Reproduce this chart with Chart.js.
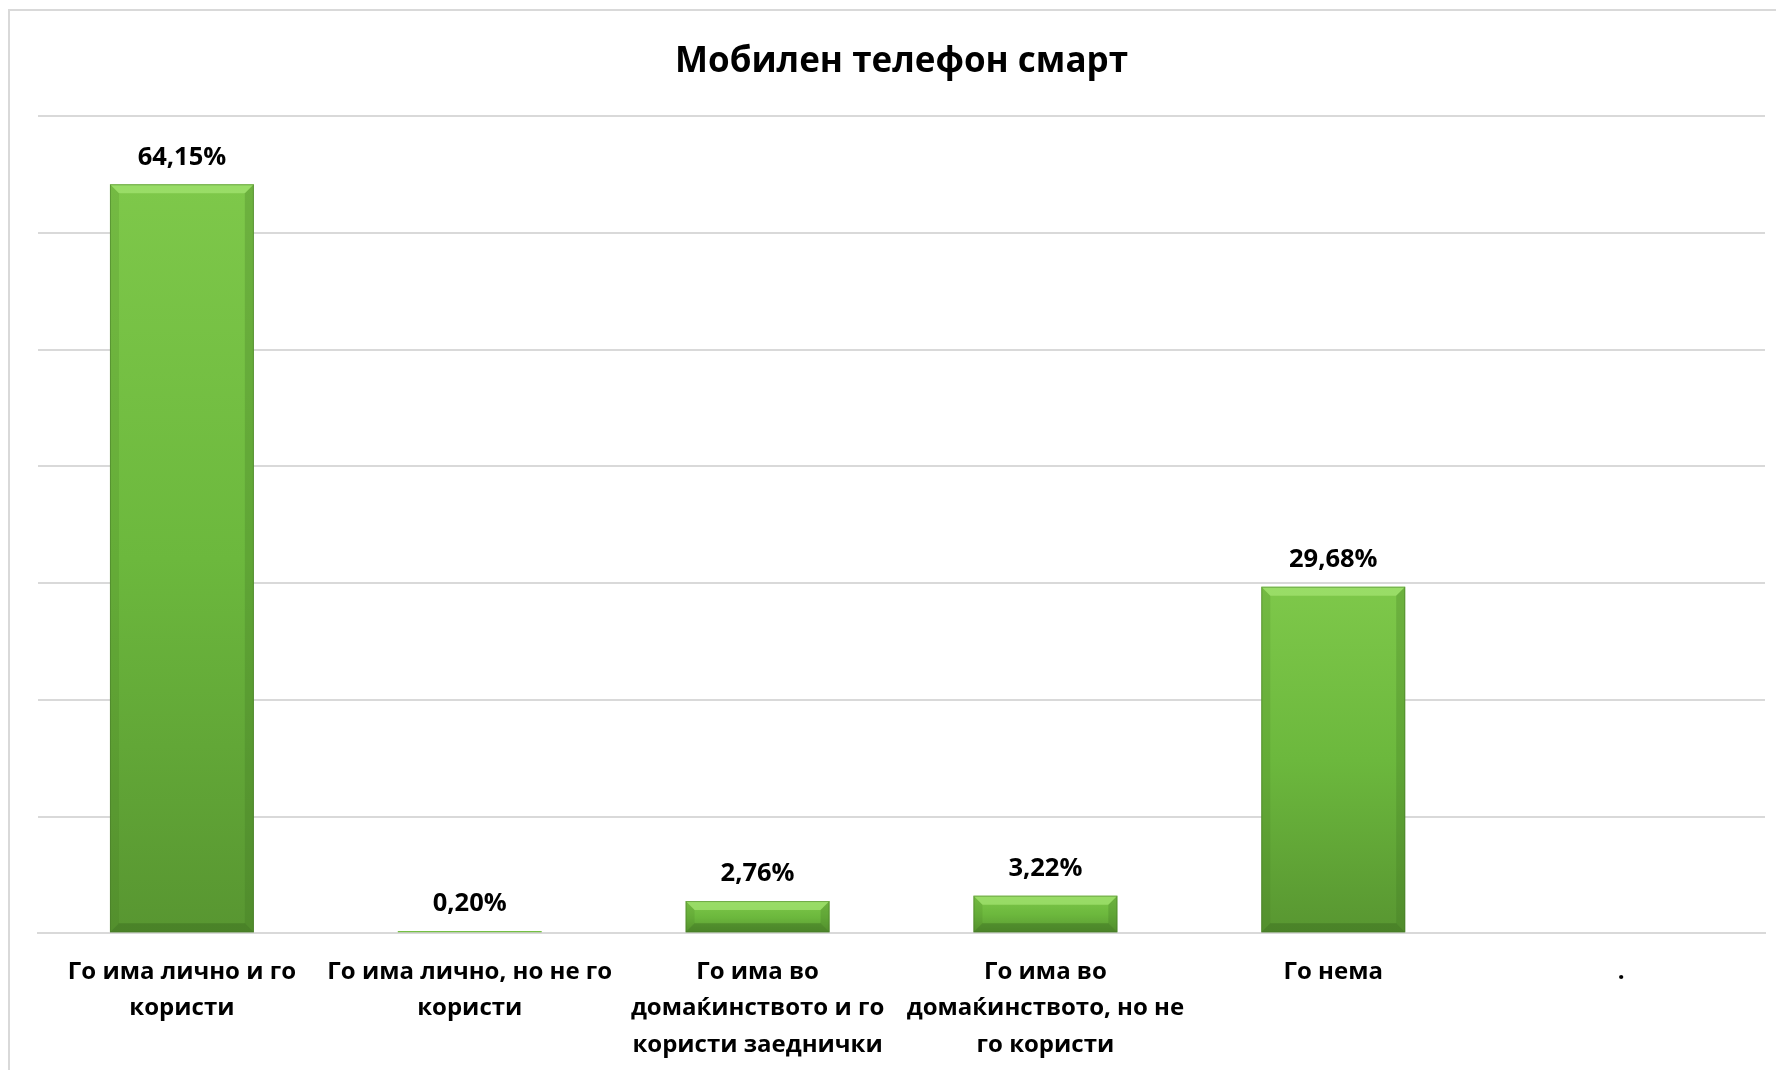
<!DOCTYPE html>
<html>
<head>
<meta charset="utf-8">
<script src="https://cdn.jsdelivr.net/npm/chart.js@4.4.0/dist/chart.umd.min.js"></script>
<style>
  html, body { margin: 0; padding: 0; background: #ffffff; }
  #wrap { width: 1776px; height: 1070px; position: relative; }
</style>
</head>
<body>
<div id="wrap"><canvas id="c" width="1776" height="1070"></canvas></div>
<script>
const chartTitle = "Мобилен телефон смарт";
const categories = [
  ["Го има лично и го", "користи"],
  ["Го има лично, но не го", "користи"],
  ["Го има во", "домаќинството и го", "користи заеднички"],
  ["Го има во", "домаќинството, но не", "го користи"],
  ["Го нема"],
  ["."]
];
const values = [64.15, 0.20, 2.76, 3.22, 29.68, null];
const yMin = 0;
const yMax = 70;
const yStep = 10;

const FONT = "'Open Sans', Lato, 'DejaVu Sans', sans-serif";

function fmt(v) {
  return v.toFixed(2).replace('.', ',') + '%';
}

function barGradient(ctx) {
  const chart = ctx.chart;
  if (!chart.chartArea || ctx.raw == null) return '#6fbd3e';
  const y = chart.scales.y;
  const top = y.getPixelForValue(ctx.raw);
  const base = y.getPixelForValue(0);
  if (!isFinite(top) || base - top < 1) return '#7cc84a';
  const g = chart.ctx.createLinearGradient(0, top, 0, base);
  g.addColorStop(0, '#7ec84a');
  g.addColorStop(0.5, '#6cb83d');
  g.addColorStop(1, '#589631');
  return g;
}

const framePlugin = {
  id: 'frame',
  beforeDraw(chart) {
    const c = chart.ctx;
    c.save();
    c.fillStyle = '#ffffff';
    c.fillRect(0, 0, chart.width, chart.height);
    c.strokeStyle = '#d9d9d9';
    c.lineWidth = 2;
    c.beginPath();
    c.moveTo(9, chart.height);
    c.lineTo(9, 10);
    c.lineTo(chart.width, 10);
    c.stroke();
    c.restore();
  }
};

const bevelPlugin = {
  id: 'bevel',
  afterDatasetsDraw(chart) {
    const c = chart.ctx;
    const meta = chart.getDatasetMeta(0);
    c.save();
    meta.data.forEach((el, i) => {
      if (values[i] == null) return;
      const x0 = el.x - el.width / 2, x1 = el.x + el.width / 2;
      const top = el.y, bot = el.base;
      const h = bot - top;
      if (h < 3) return;
      const b = Math.min(9, h / 3.5);
      c.fillStyle = 'rgba(165,230,115,0.7)';
      c.beginPath();
      c.moveTo(x0, top); c.lineTo(x1, top); c.lineTo(x1 - b, top + b); c.lineTo(x0 + b, top + b); c.closePath();
      c.fill();
      c.fillStyle = 'rgba(50,95,25,0.35)';
      c.beginPath();
      c.moveTo(x0, bot); c.lineTo(x1, bot); c.lineTo(x1 - b, bot - b); c.lineTo(x0 + b, bot - b); c.closePath();
      c.fill();
      c.fillStyle = 'rgba(60,110,30,0.15)';
      c.beginPath();
      c.moveTo(x0, top); c.lineTo(x0 + b, top + b); c.lineTo(x0 + b, bot - b); c.lineTo(x0, bot); c.closePath();
      c.fill();
      c.fillStyle = 'rgba(60,110,30,0.25)';
      c.beginPath();
      c.moveTo(x1, top); c.lineTo(x1 - b, top + b); c.lineTo(x1 - b, bot - b); c.lineTo(x1, bot); c.closePath();
      c.fill();
      c.strokeStyle = 'rgba(70,120,40,0.5)';
      c.lineWidth = 1;
      c.strokeRect(x0 + 0.5, top + 0.5, el.width - 1, h - 1);
    });
    c.restore();
  }
};

const labelPlugin = {
  id: 'valueLabels',
  afterDatasetsDraw(chart) {
    const c = chart.ctx;
    const meta = chart.getDatasetMeta(0);
    c.save();
    c.fillStyle = '#000000';
    c.font = "bold 25.5px " + FONT;
    c.textAlign = 'center';
    c.textBaseline = 'middle';
    meta.data.forEach((el, i) => {
      if (values[i] == null) return;
      c.fillText(fmt(values[i]), el.x, el.y - 27);
    });
    c.restore();
  }
};

new Chart(document.getElementById('c'), {
  type: 'bar',
  data: {
    labels: categories,
    datasets: [{
      data: values,
      backgroundColor: barGradient,
      borderWidth: 0,
      barPercentage: 0.5,
      categoryPercentage: 1.0
    }]
  },
  options: {
    responsive: false,
    animation: false,
    devicePixelRatio: 1,
    layout: { padding: { left: 38, right: 11, top: 10, bottom: -14 } },
    plugins: {
      legend: { display: false },
      tooltip: { enabled: false },
      title: {
        display: true,
        text: chartTitle,
        color: '#000000',
        font: { family: FONT, size: 35, weight: 'bold', lineHeight: 1.2 },
        padding: { top: 31, bottom: 33 }
      }
    },
    scales: {
      x: {
        grid: { display: false, drawTicks: false },
        border: { display: true, color: '#d9d9d9', width: 2 },
        ticks: {
          color: '#000000',
          font: { family: FONT, size: 24, weight: 'bold', lineHeight: 1.51 },
          padding: 21,
          maxRotation: 0,
          autoSkip: false
        }
      },
      y: {
        min: yMin,
        max: yMax,
        ticks: { display: false, stepSize: yStep },
        grid: { color: '#d9d9d9', lineWidth: 2, drawTicks: false },
        border: { display: false }
      }
    }
  },
  plugins: [framePlugin, bevelPlugin, labelPlugin]
});
</script>
</body>
</html>
